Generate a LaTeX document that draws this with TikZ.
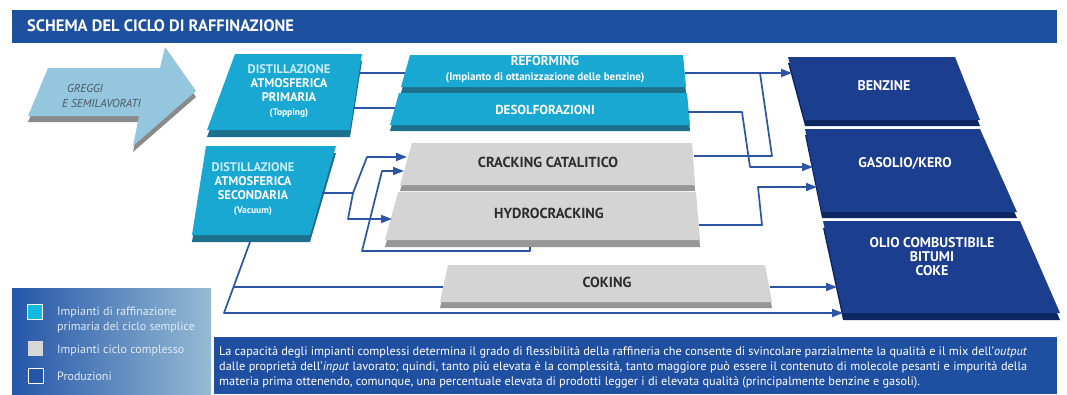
\documentclass[tikz,border=0pt]{standalone}
\usepackage{fontspec}
\setmainfont{PT Sans}
\usetikzlibrary{arrows.meta}
\definecolor{titleblue}{RGB}{30,80,160}
\definecolor{cyanface}{RGB}{25,168,210}
\definecolor{cyanedge}{RGB}{28,112,140}
\definecolor{cyantext}{RGB}{200,236,248}
\definecolor{greyface}{RGB}{212,212,212}
\definecolor{greyedge}{RGB}{150,150,150}
\definecolor{darktext}{RGB}{45,45,45}
\definecolor{outface}{RGB}{28,62,142}
\definecolor{outedge}{RGB}{13,37,96}
\definecolor{arrowface}{RGB}{148,198,222}
\definecolor{arrowedge}{RGB}{138,138,138}
\definecolor{arrowtext}{RGB}{75,88,100}
\definecolor{linkblue}{RGB}{44,85,165}
\definecolor{legendL}{RGB}{36,86,168}
\definecolor{legendR}{RGB}{150,187,212}
\definecolor{legtext}{RGB}{225,235,248}
\definecolor{legcyan}{RGB}{20,185,225}
\definecolor{leggrey}{RGB}{215,215,215}
\definecolor{bodyblue}{RGB}{31,79,160}
\newcommand{\myslab}[4]{%
  \fill[#2,yshift=-#3pt] #4 -- cycle;
  \fill[#1] #4 -- cycle;}
\begin{document}
\begin{tikzpicture}[x=1pt,y=-1pt,
  link/.style={draw=linkblue,line width=1.7pt,line join=round},
  tipped/.style={-{Triangle[length=11pt,width=8pt]}},
  cyantxt/.style={align=center,inner sep=0pt,text=white,font=\bfseries\fontsize{12.5}{14}\selectfont},
  greytxt/.style={align=center,inner sep=0pt,text=darktext,font=\bfseries\fontsize{14.5}{16}\selectfont},
  outtxt/.style={align=center,inner sep=0pt,text=white,font=\bfseries\fontsize{14}{14}\selectfont},
  legtxt/.style={anchor=west,inner sep=0pt,text=legtext,font=\fontsize{12}{13}\selectfont},
  legbox/.style={minimum size=15pt,inner sep=0pt,line width=1pt},
  bodytxt/.style={anchor=west,inner sep=0pt,text=white,font=\fontsize{12.3}{13}\selectfont}
]
\useasboundingbox (0,0) rectangle (1067,394);
\fill[white] (0,0) rectangle (1067,394);

% title bar
\fill[titleblue] (12,10) rectangle (1057,43);
\node[anchor=west,inner sep=0pt,text=white,font=\bfseries\fontsize{16.5}{18}\selectfont] (title) at (27,26) {SCHEMA DEL CICLO DI RAFFINAZIONE};

% input arrow
\myslab{arrowface}{arrowedge}{6}{(48,68) -- (160,68) -- (165,47) -- (196,91) -- (133,146) -- (139,116) -- (28,116)}
\node[anchor=west,inner sep=0pt,text=arrowtext,font=\itshape\fontsize{11.5}{12}\selectfont] (in1) at (67,88) {GREGGI};
\node[anchor=west,inner sep=0pt,text=arrowtext,font=\itshape\fontsize{11.5}{12}\selectfont] (in2) at (62,103) {E SEMILAVORATI};

% cyan boxes
\myslab{cyanface}{cyanedge}{7}{(235,54) -- (362,54) -- (350,130) -- (207,130)}
\myslab{cyanface}{cyanedge}{7}{(206,146) -- (336,146) -- (310,235) -- (192,235)}
\myslab{cyanface}{cyanedge}{6}{(410,55) -- (683,55) -- (686,87) -- (401,87)}
\myslab{cyanface}{cyanedge}{6}{(399,93) -- (687,93) -- (690,125) -- (390,125)}

\node[cyantxt] (d1) at (289,91) {{\color{cyantext}DISTILLAZIONE}\\ATMOSFERICA\\PRIMARIA\\{\fontsize{9.5}{15}\selectfont(Topping)}};
\node[cyantxt] (d2) at (253,189) {{\color{cyantext}DISTILLAZIONE}\\ATMOSFERICA\\SECONDARIA\\{\fontsize{9.5}{15}\selectfont(Vacuum)}};
\node[cyantxt,font=\bfseries\fontsize{13}{15}\selectfont] (ref) at (545,70) {REFORMING\\{\fontsize{11}{15}\selectfont(Impianto di ottanizzazione delle benzine)}};
\node[cyantxt,font=\bfseries\fontsize{13}{14}\selectfont] (des) at (545,110) {DESOLFORAZIONI};

% grey boxes
\myslab{greyface}{greyedge}{6}{(412,143) -- (692,143) -- (695,185) -- (400,185)}
\myslab{greyface}{greyedge}{7}{(398,192) -- (696,192) -- (700,240) -- (385,240)}
\myslab{greyface}{greyedge}{6}{(448,265) -- (765,265) -- (772,302) -- (440,302)}
\node[greytxt] (cc) at (548,162) {CRACKING CATALITICO};
\node[greytxt] (hc) at (549,213) {HYDROCRACKING};
\node[greytxt] (co) at (607,282) {COKING};

% output boxes
\myslab{outface}{outedge}{6}{(788,57) -- (955,57) -- (980,120) -- (805,120)}
\myslab{outface}{outedge}{6}{(805,129) -- (980,129) -- (1017,212) -- (822,212)}
\myslab{outface}{outedge}{7}{(823,221) -- (1020,221) -- (1060,313) -- (843,313)}
\node[outtxt] (ben) at (884,86) {BENZINE};
\node[outtxt] (gas) at (905,163) {GASOLIO/KERO};
\node[outtxt] (olio) at (932,257) {OLIO COMBUSTIBILE\\BITUMI\\COKE};

% connector points
\coordinate (b1o1) at (359,73);
\coordinate (refin) at (405,73);
\coordinate (b1o2) at (353,108);
\coordinate (desin) at (395,108);
\coordinate (refout) at (685,73);
\coordinate (benin) at (792,73);
\coordinate (ccout) at (694,156);
\coordinate (j1a) at (772,156);
\coordinate (j1b) at (760,73);
\coordinate (desout) at (688,112);
\coordinate (j2a) at (742,112);
\coordinate (j2b) at (750,167);
\coordinate (gasin1) at (813,167);
\coordinate (hcout) at (699,225);
\coordinate (j3a) at (762,225);
\coordinate (j3b) at (758,187);
\coordinate (gasin2) at (817,187);
\coordinate (coout) at (770,287);
\coordinate (olin1) at (837,287);
\coordinate (b2bot) at (250,242);
\coordinate (j4) at (224,313);
\coordinate (olin2) at (843,313);
\coordinate (j5) at (233.7,287);
\coordinate (coin) at (443,287);
\coordinate (b2out) at (322,193);
\coordinate (j6) at (353,193);
\coordinate (j6a) at (367,157);
\coordinate (ccin1) at (407,157);
\coordinate (j6b) at (348,219);
\coordinate (hcin) at (392,219);
\coordinate (hcbot) at (530,247);
\coordinate (j7a) at (530,251);
\coordinate (j7b) at (362,251);
\coordinate (j7c) at (382,171);
\coordinate (ccin2) at (404,171);

% connectors
\draw[link] (b1o1) -- (refin);
\draw[link] (b1o2) -- (desin);
\draw[link,tipped] (refout) -- (benin);
\draw[link] (ccout) -- (j1a) -- (j1b);
\draw[link,tipped] (desout) -- (j2a) -- (j2b) -- (gasin1);
\draw[link,tipped] (hcout) -- (j3a) -- (j3b) -- (gasin2);
\draw[link,tipped] (coout) -- (olin1);
\draw[link,tipped] (b2bot) -- (j4) -- (olin2);
\draw[link] (j5) -- (coin);
\draw[link,tipped] (b2out) -- (j6) -- (j6a) -- (ccin1);
\draw[link,tipped] (j6) -- (j6b) -- (hcin);
\draw[link,tipped] (hcbot) -- (j7a) -- (j7b) -- (j7c) -- (ccin2);

% legend panel
\shade[left color=legendL,right color=legendR] (12,288) rectangle (211,394);
\node[legbox,draw=white,fill=legcyan] (lg1) at (35,312) {};
\node[legbox,fill=leggrey] (lg2) at (35,348) {};
\node[legbox,draw=white,fill=legendL] (lg3) at (36,376) {};
\node[legtxt] (lt1) at (57,312) {Impianti di raffinazione};
\node[legtxt] (lt2) at (57,327) {primaria del ciclo semplice};
\node[legtxt] (lt3) at (57,350) {Impianti ciclo complesso};
\node[legtxt] (lt4) at (57,376) {Produzioni};

% bottom text box
\fill[bodyblue] (214,337) rectangle (1057,394);
\node[bodytxt] (bt1) at (219,352) {\makebox[808pt][s]{La capacità degli impianti complessi determina il grado di flessibilità della raffineria che consente di svincolare parzialmente la qualità e il mix dell’\textit{output}}};
\node[bodytxt] (bt2) at (219,367) {\makebox[808pt][s]{dalle proprietà dell’\textit{input} lavorato; quindi, tanto più elevata è la complessità, tanto maggiore può essere il contenuto di molecole pesanti e impurità della}};
\node[bodytxt] (bt3) at (219,382) {materia prima ottenendo, comunque, una percentuale elevata di prodotti legger i di elevata qualità (principalmente benzine e gasoli).};
\end{tikzpicture}
\end{document}
